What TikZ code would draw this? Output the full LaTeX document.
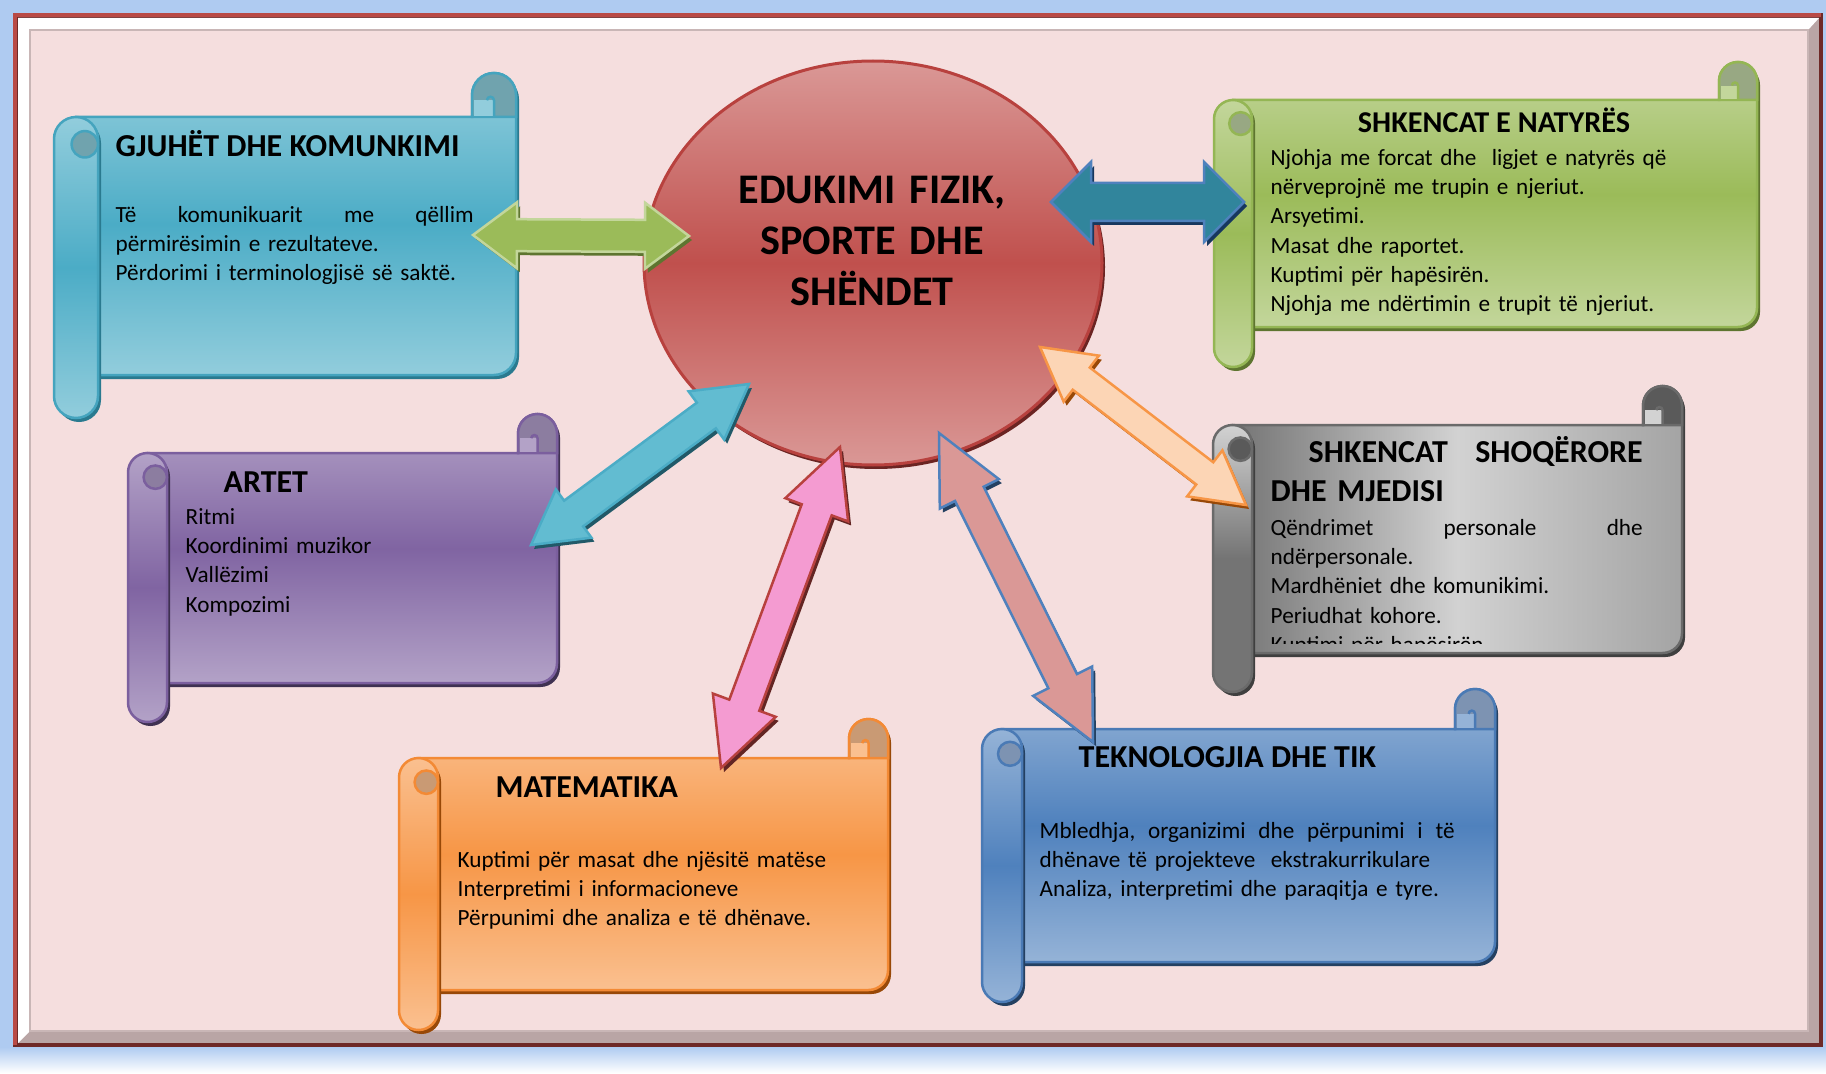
\documentclass[tikz,border=0pt]{standalone}
\usepackage{fontspec}
\setmainfont{Carlito}
\usetikzlibrary{calc,shapes.geometric}

\definecolor{glow}{HTML}{AFCBF1}
\definecolor{framered}{HTML}{B94A45}
\definecolor{framedark}{HTML}{6E2927}
\definecolor{bevel}{HTML}{B9A5A5}
\definecolor{paper}{HTML}{F5DEDE}
\definecolor{paperline}{HTML}{C9B6B6}

\definecolor{aquaL}{HTML}{92CDDC}\definecolor{aquaM}{HTML}{4BACC6}
\definecolor{aquaE}{HTML}{45A4BE}\definecolor{aquaS}{HTML}{2A7A8F}\definecolor{aquaC}{HTML}{70A3AE}
\definecolor{leafL}{HTML}{C3D69B}\definecolor{leafM}{HTML}{9BBB59}
\definecolor{leafE}{HTML}{94B654}\definecolor{leafS}{HTML}{5E7530}\definecolor{leafC}{HTML}{98A883}
\definecolor{greyL}{HTML}{D2D2D2}\definecolor{greyM}{HTML}{747474}
\definecolor{greyR}{HTML}{A4A4A4}\definecolor{greyE}{HTML}{6A6A6A}\definecolor{greyS}{HTML}{3F3F3F}
\definecolor{greyC}{HTML}{5A5A5A}
\definecolor{plumL}{HTML}{B3A2C7}\definecolor{plumM}{HTML}{8064A2}
\definecolor{plumE}{HTML}{7B5F9E}\definecolor{plumS}{HTML}{3F3151}\definecolor{plumC}{HTML}{8C7DA0}
\definecolor{tangL}{HTML}{FAC090}\definecolor{tangM}{HTML}{F79646}
\definecolor{tangE}{HTML}{F38A35}\definecolor{tangS}{HTML}{984807}\definecolor{tangC}{HTML}{C99A74}
\definecolor{navyL}{HTML}{95B3D7}\definecolor{navyM}{HTML}{4F81BD}
\definecolor{navyE}{HTML}{4A7AB5}\definecolor{navyS}{HTML}{244061}\definecolor{navyC}{HTML}{7D93B2}
\definecolor{coreL}{HTML}{DA9896}\definecolor{coreM}{HTML}{C0504D}
\definecolor{coreE}{HTML}{B8413E}\definecolor{coreS}{HTML}{6B2422}
\definecolor{tealF}{HTML}{31859C}\definecolor{tealS}{HTML}{17375E}
\definecolor{cyanF}{HTML}{62BCD1}\definecolor{cyanS}{HTML}{215968}
\definecolor{pinkF}{HTML}{F49BD1}\definecolor{pinkS}{HTML}{632523}
\definecolor{peachF}{HTML}{FCD5B5}

\tikzset{
  shadowed/.style={preaction={fill=#1, transform canvas={xshift=0.3mm, yshift=-0.4mm}}},
  scrollpart/.style={top color=#1L, bottom color=#1L, middle color=#1M,
    draw=#1E, line width=0.25mm, shadowed=#1S},
  aqua body/.style={scrollpart=aqua}, aqua roll/.style={scrollpart=aqua},
  leaf body/.style={scrollpart=leaf}, leaf roll/.style={scrollpart=leaf},
  plum body/.style={scrollpart=plum}, plum roll/.style={scrollpart=plum},
  tang body/.style={scrollpart=tang}, tang roll/.style={scrollpart=tang},
  navy body/.style={scrollpart=navy}, navy roll/.style={scrollpart=navy},
  grey body/.style={left color=greyM, right color=greyR, middle color=greyL,
    draw=greyE, line width=0.25mm, shadowed=greyS},
  grey roll/.style={top color=greyL, bottom color=greyM, middle color=greyM,
    draw=greyE, line width=0.25mm, shadowed=greyS},
  blockarrow/.style n args={3}{fill=#1, draw=#2, line width=0.25mm, shadowed=#3},
  heading/.style={font=\bfseries\fontsize{9.1}{11.3}\selectfont, inner sep=0pt, anchor=base west},
  itemtext/.style={font=\fontsize{6.6}{8.35}\selectfont, inner sep=0pt, anchor=base west, align=left},
}

% scroll: left, top, right, bottom, roll bottom, roll width, colour
\newcommand\scroll[7]{%
  \path[#7 body] ({#1+#6/2},#2) -- ({#3-#6},#2) -- ({#3-#6},{#2-#6/2})
    arc[start angle=180, end angle=360, radius=#6/2]
    -- (#3,{#4-#6/2}) arc[start angle=0, end angle=90, radius=#6/2]
    -- ({#1+#6/2},#4) -- cycle;
  \path[fill=#7C, draw=#7E, line width=0.25mm] ({#3-#6},#2) -- ({#3-#6},{#2-#6/2})
    arc[start angle=180, end angle=360, radius=#6/2] -- (#3,#2) -- cycle;
  \fill[#7L] ({#3-#6+1.5},{#2-1}) rectangle ({#3-#6/2},{#2-0.38*#6});
  \draw[#7E, line width=0.25mm] ({#3-#6/2},#2) -- ({#3-#6/2},{#2-0.38*#6})
    arc[start angle=0, end angle=-180, radius=0.08*#6];
  \path[#7 roll] (#1,{#2+#6/2}) arc[start angle=180, end angle=360, radius=#6/2]
    -- ({#1+#6},{#5-#6/2}) arc[start angle=0, end angle=180, radius=#6/2] -- cycle;
  \path[fill=#7C, draw=#7E, line width=0.25mm] ({#1+0.7*#6},{#2+0.62*#6}) circle[radius=0.3*#6];
}

% double block arrow: end, end, head length, head half width, shaft half width, style
\newcommand\dblarrow[6]{%
  \path[#6] (#1)
    -- ($(#1)!#3!(#2)!#4!90:(#2)$) -- ($(#1)!#3!(#2)!#5!90:(#2)$)
    -- ($(#2)!#3!(#1)!#5!-90:(#1)$) -- ($(#2)!#3!(#1)!#4!-90:(#1)$)
    -- (#2)
    -- ($(#2)!#3!(#1)!#4!90:(#1)$) -- ($(#2)!#3!(#1)!#5!90:(#1)$)
    -- ($(#1)!#3!(#2)!#5!-90:(#2)$) -- ($(#1)!#3!(#2)!#4!-90:(#2)$)
    -- cycle;
}

\begin{document}
\begin{tikzpicture}[x=0.1mm, y=-0.1mm]
  \useasboundingbox (0,0) rectangle (1826,1073);

  % frame
  \fill[glow] (0,0) rectangle (1826,1073);
  \fill[top color=glow, bottom color=white] (0,1047) rectangle (1826,1073);
  \fill[framedark] (13,13) rectangle (1823,1047);
  \draw[framered, line width=0.4mm] (15,1045) -- (15,15) -- (1821,15);
  \fill[bevel] (18,18) rectangle (1819,1043);
  \fill[white] (18,18) -- (1819,18) -- (1808,30) -- (30,30) -- (30,1031) -- (18,1043) -- cycle;
  \fill[paper, draw=paperline, line width=0.15mm] (30,30) rectangle (1808,1031);

  % scrolls
  \scroll{54}{117}{516}{375}{418}{44}{aqua}
  \scroll{1214}{100}{1757}{327}{367}{38}{leaf}
  \scroll{1213}{425}{1682}{653}{692}{39}{grey}
  \scroll{128}{453}{557}{683}{722}{39}{plum}
  \scroll{399}{758}{888}{990}{1030}{39}{tang}
  \scroll{982}{729}{1495}{962}{1002}{40}{navy}

  % centre
  \node[ellipse, minimum width=45.8mm, minimum height=40.4mm, inner sep=0pt,
        top color=coreL, bottom color=coreL, middle color=coreM,
        draw=coreE, line width=0.3mm, shadowed=coreS] (core) at (873,263) {};
  \node[font=\bfseries\fontsize{12}{14.65}\selectfont, inner sep=0pt, anchor=base,
        text width=45mm, align=center] (coretitle) at (872,203)
        {EDUKIMI FIZIK,\\SPORTE DHE\\SHËNDET};

  % texts
  \node[heading] (aquatitle) at (115,156) {GJUHËT DHE KOMUNKIMI};
  \node[itemtext, text width=35.8mm] (aquatext) at (115,222)
    {Të\hfill komunikuarit\hfill me\hfill qëllim\\
     përmirësimin e rezultateve.\\
     Përdorimi i terminologjisë së saktë.};

  \node[heading, anchor=base, font=\bfseries\fontsize{8.6}{11.3}\selectfont] (leaftitle) at (1494,133) {SHKENCAT E NATYRËS};
  \node[itemtext, text width=47mm] (leaftext) at (1270,165)
    {Njohja me forcat dhe\ \ ligjet e natyrës që\\
     nërveprojnë me trupin e njeriut.\\
     Arsyetimi.\\
     Masat dhe raportet.\\
     Kuptimi për hapësirën.\\
     Njohja me ndërtimin e trupit të njeriut.};

  \node[heading, text width=37.2mm, align=left] (greytitle) at (1270,462)
    {\hspace*{3.8mm}SHKENCAT\hfill SHOQËRORE\\DHE MJEDISI};
  \begin{scope}
    \clip (1252,425) rectangle (1682,643);
    \node[itemtext, text width=37.2mm] (greytext) at (1270,535)
      {Qëndrimet\hfill personale\hfill dhe\\
       ndërpersonale.\\
       Mardhëniet dhe komunikimi.\\
       Periudhat kohore.\\
       Kuptimi për hapësirën.};
  \end{scope}

  \node[heading] (plumtitle) at (223,492) {ARTET};
  \node[itemtext, text width=30mm] (plumtext) at (185,524)
    {Ritmi\\ Koordinimi muzikor\\ Vallëzimi\\ Kompozimi};

  \node[heading] (tangtitle) at (495,797) {MATEMATIKA};
  \node[itemtext, text width=40mm] (tangtext) at (457,867)
    {Kuptimi për masat dhe njësitë matëse\\
     Interpretimi i informacioneve\\
     Përpunimi dhe analiza e të dhënave.};

  \node[heading] (navytitle) at (1078,767) {TEKNOLOGJIA DHE TIK};
  \node[itemtext, text width=41.5mm] (navytext) at (1039,838)
    {Mbledhja,\hfill organizimi\hfill dhe\hfill përpunimi\hfill i\hfill të\\
     dhënave të projekteve\ \ ekstrakurrikulare\\
     Analiza, interpretimi dhe paraqitja e tyre.};

  % arrow ends
  \coordinate (gw) at (473,235);  \coordinate (ge) at (689,236);
  \coordinate (tw) at (1051,202); \coordinate (te) at (1244,202);
  \coordinate (cn) at (749,384);  \coordinate (cs) at (531,545);
  \coordinate (pn) at (840,447);  \coordinate (ps) at (721,768);
  \coordinate (rn) at (939,433);  \coordinate (rs) at (1093,742);
  \coordinate (en) at (1040,347); \coordinate (es) at (1246,505);

  % arrows
  \dblarrow{gw}{ge}{4.4mm}{3.3mm}{1.6mm}{blockarrow={leafM}{leafL}{leafS}}
  \dblarrow{tw}{te}{4.0mm}{4.0mm}{1.9mm}{blockarrow={tealF}{navyM}{tealS}}
  \dblarrow{cn}{cs}{5.3mm}{3.0mm}{1.6mm}{blockarrow={cyanF}{aquaM}{cyanS}}
  \dblarrow{pn}{ps}{6.7mm}{3.35mm}{1.6mm}{blockarrow={pinkF}{coreE}{pinkS}}
  \dblarrow{rn}{rs}{6.8mm}{3.3mm}{1.6mm}{blockarrow={coreL}{navyM}{navyS}}
  \dblarrow{en}{es}{5.2mm}{2.9mm}{1.4mm}{blockarrow={peachF}{tangM}{tangS}}

\end{tikzpicture}
\end{document}
